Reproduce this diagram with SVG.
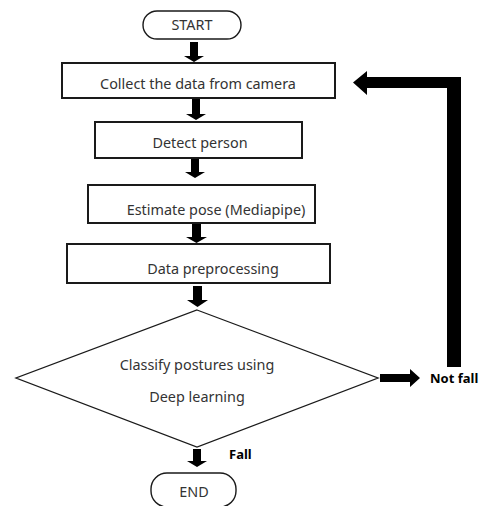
<svg xmlns="http://www.w3.org/2000/svg" width="480" height="506" viewBox="0 0 480 506">
<style>
.box{fill:#fff;stroke:#1a1a1a;stroke-width:2}
.term{fill:#fff;stroke:#1a1a1a;stroke-width:1.4}
.dia{fill:#fff;stroke:#1a1a1a;stroke-width:1.3}
.t{font-family:"Noto Sans","DejaVu Sans",sans-serif;font-size:14.4px;fill:#333;text-anchor:middle}
.b{font-family:"Noto Sans","DejaVu Sans",sans-serif;font-size:13px;font-weight:bold;fill:#000}
.arr{fill:#000}
</style>
<rect width="480" height="506" fill="#fff"/>
<g id="connectors">
<path class="arr" d="M190,42 H198 V56 H204 L194,62 L184,56 H190 Z"/>
<path class="arr" d="M192,98 H200 V114 H206 L196,120 L186,114 H192 Z"/>
<path class="arr" d="M191,158 H199 V172 H205 L195,178 L185,172 H191 Z"/>
<path class="arr" d="M192,223 H201 V237 H207 L196.5,243 L186,237 H192 Z"/>
<path class="arr" d="M193,286 H202 V300 H208 L197.5,307 L187,300 H193 Z"/>
<path class="arr" d="M193,449 H201 V461 H207 L197,467 L187,461 H193 Z"/>
<path class="arr" d="M380,374 H410 V369 L420,378 L410,387 V382 H380 Z"/>
<path class="arr" d="M447,367 V88 H367 V95 L353,82.5 L367,71 V77 H461 V367 Z"/>
</g>
<g id="start">
<rect class="term" x="143" y="11" width="98" height="28" rx="14"/>
<text class="t" x="192" y="30">START</text>
</g>
<g id="collect">
<rect class="box" x="62" y="63" width="273" height="35"/>
<text class="t" x="198" y="89">Collect the data from camera</text>
</g>
<g id="detect">
<rect class="box" x="95" y="122" width="207" height="36"/>
<text class="t" x="200" y="148">Detect person</text>
</g>
<g id="estimate">
<rect class="box" x="88" y="185" width="227" height="38"/>
<text class="t" x="216" y="215">Estimate pose (Mediapipe)</text>
</g>
<g id="preprocess">
<rect class="box" x="67" y="244" width="263" height="39"/>
<text class="t" x="213" y="274">Data preprocessing</text>
</g>
<g id="classify">
<polygon class="dia" points="197,310 378,378 197,447 16,378"/>
<text class="t" x="197" y="370">Classify postures using</text>
<text class="t" x="197" y="402">Deep learning</text>
</g>
<g id="end">
<rect class="term" x="151" y="473" width="85" height="34" rx="16"/>
<text class="t" x="194" y="497">END</text>
</g>
<g id="labels">
<text class="b" x="430" y="383">Not fall</text>
<text class="b" x="229" y="459">Fall</text>
</g>
</svg>
